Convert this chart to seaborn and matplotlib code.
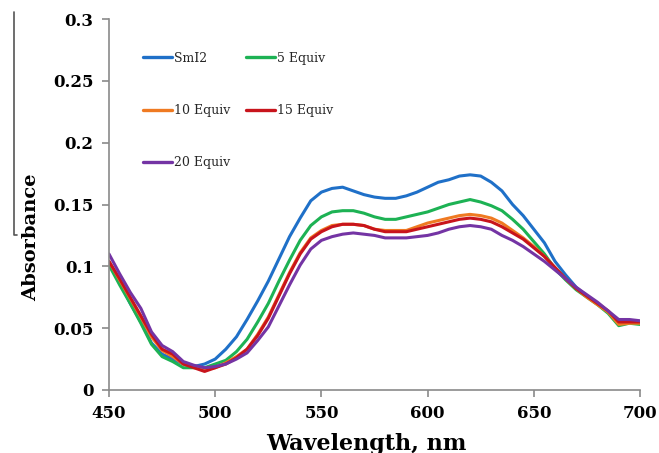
import numpy as np
import pandas as pd
import matplotlib.pyplot as plt
import seaborn as sns
from matplotlib.lines import Line2D

# ===============================
# Data (5 nm steps)
# ===============================
wavelength = list(range(450, 705, 5))

smi2 = [0.102, 0.087, 0.070, 0.055, 0.038, 0.029, 0.025, 0.021, 0.019, 0.021,
        0.025, 0.033, 0.043, 0.057, 0.072, 0.088, 0.106, 0.124, 0.139, 0.153,
        0.160, 0.163, 0.164, 0.161, 0.158, 0.156, 0.155, 0.155, 0.157, 0.160,
        0.164, 0.168, 0.170, 0.173, 0.174, 0.173, 0.168, 0.161, 0.150, 0.141,
        0.130, 0.119, 0.104, 0.093, 0.083, 0.076, 0.070, 0.063, 0.055, 0.055,
        0.054]
equiv5 = [0.101, 0.085, 0.070, 0.054, 0.037, 0.027, 0.023, 0.018, 0.018, 0.018,
          0.021, 0.024, 0.031, 0.041, 0.055, 0.070, 0.088, 0.105, 0.121, 0.133,
          0.140, 0.144, 0.145, 0.145, 0.143, 0.140, 0.138, 0.138, 0.140, 0.142,
          0.144, 0.147, 0.150, 0.152, 0.154, 0.152, 0.149, 0.145, 0.138, 0.130,
          0.120, 0.110, 0.098, 0.089, 0.081, 0.075, 0.069, 0.062, 0.052, 0.054,
          0.053]
equiv10 = [0.104, 0.089, 0.074, 0.059, 0.043, 0.032, 0.027, 0.021, 0.019, 0.017,
           0.018, 0.022, 0.027, 0.033, 0.045, 0.059, 0.077, 0.095, 0.111, 0.123,
           0.129, 0.133, 0.134, 0.134, 0.133, 0.130, 0.129, 0.129, 0.129, 0.132,
           0.135, 0.137, 0.139, 0.141, 0.142, 0.141, 0.139, 0.135, 0.129, 0.123,
           0.116, 0.108, 0.099, 0.090, 0.082, 0.075, 0.069, 0.063, 0.053, 0.054,
           0.054]
equiv15 = [0.104, 0.090, 0.075, 0.060, 0.045, 0.033, 0.029, 0.021, 0.018, 0.015,
           0.018, 0.021, 0.026, 0.033, 0.044, 0.058, 0.076, 0.094, 0.110, 0.122,
           0.128, 0.132, 0.134, 0.134, 0.133, 0.130, 0.128, 0.128, 0.128, 0.130,
           0.132, 0.134, 0.136, 0.138, 0.139, 0.138, 0.136, 0.132, 0.127, 0.122,
           0.115, 0.108, 0.099, 0.090, 0.082, 0.076, 0.070, 0.064, 0.055, 0.055,
           0.055]
equiv20 = [0.110, 0.094, 0.079, 0.066, 0.047, 0.036, 0.031, 0.023, 0.020, 0.018,
           0.019, 0.021, 0.025, 0.030, 0.040, 0.051, 0.068, 0.085, 0.101, 0.114,
           0.121, 0.124, 0.126, 0.127, 0.126, 0.125, 0.123, 0.123, 0.123, 0.124,
           0.125, 0.127, 0.130, 0.132, 0.133, 0.132, 0.130, 0.125, 0.121, 0.116,
           0.110, 0.104, 0.097, 0.090, 0.083, 0.077, 0.071, 0.064, 0.057, 0.057,
           0.056]

series_names = ["SmI2", "5 Equiv", "10 Equiv", "15 Equiv", "20 Equiv"]
series_values = [smi2, equiv5, equiv10, equiv15, equiv20]
colors = ["#1f70c8", "#1db254", "#ef7a22", "#c8141c", "#7434a4"]

x_ticks = [450, 500, 550, 600, 650, 700]
y_ticks = [0, 0.05, 0.1, 0.15, 0.2, 0.25, 0.3]
y_tick_labels = ["0", "0.05", "0.1", "0.15", "0.2", "0.25", "0.3"]

# long-form table for seaborn
frames = []
for name, vals in zip(series_names, series_values):
    frames.append(pd.DataFrame({"Wavelength": wavelength, "Absorbance": vals, "Sample": name}))
df = pd.concat(frames, ignore_index=True)

# ===============================
# Plot
# ===============================
sns.set_theme(style="white")
plt.rcParams["font.family"] = ["DejaVu Serif"]

fig = plt.figure(figsize=(6.59, 4.53), dpi=100)
ax = fig.add_axes([109 / 659, 63 / 453, 531 / 659, 371 / 453])

sns.lineplot(data=df, x="Wavelength", y="Absorbance", hue="Sample",
             hue_order=series_names, palette=colors, linewidth=2.2, ax=ax)

ax.set_xlim(450, 700)
ax.set_ylim(0, 0.3)
ax.set_xticks(x_ticks)
ax.set_yticks(y_ticks)
ax.set_yticklabels(y_tick_labels)

for sp in ["top", "right"]:
    ax.spines[sp].set_visible(False)
for sp in ["left", "bottom"]:
    ax.spines[sp].set_color("#8a8a8a")
    ax.spines[sp].set_linewidth(1.2)

ax.tick_params(axis="both", direction="out", length=5, width=1.2, color="#8a8a8a",
               labelsize=12, pad=6, bottom=True, left=True)
for lab in ax.get_xticklabels() + ax.get_yticklabels():
    lab.set_fontweight("bold")
    lab.set_color("black")

ax.set_xlabel("Wavelength, nm", fontsize=16, fontweight="bold", color="black")
ax.set_ylabel("Absorbance", fontsize=14, fontweight="bold", color="black")
ax.xaxis.set_label_coords(0.484, -0.117)
ax.yaxis.set_label_coords(-0.13, 0.412)

# legend laid out row by row: SmI2 | 5, 10 | 15, 20
handles, labels = ax.get_legend_handles_labels()
order = [0, 2, 4, 1, 3]
leg = ax.legend([handles[i] for i in order], [labels[i] for i in order],
                ncol=2, frameon=False, fontsize=9, loc="upper left",
                bbox_to_anchor=(0.064, 0.912), borderpad=0, borderaxespad=0,
                handlelength=2.3, handletextpad=0.15, labelspacing=3.15,
                columnspacing=1.3)
for line in leg.get_lines():
    line.set_linewidth(2.4)

# stray bracket line at the far left of the original image
fig.add_artist(Line2D([14 / 659, 14 / 659, 17 / 659],
                      [1 - 12 / 453, 1 - 235 / 453, 1 - 235 / 453],
                      color="#555555", linewidth=1.2))

fig.savefig("out.png", dpi=100)
plt.close(fig)
